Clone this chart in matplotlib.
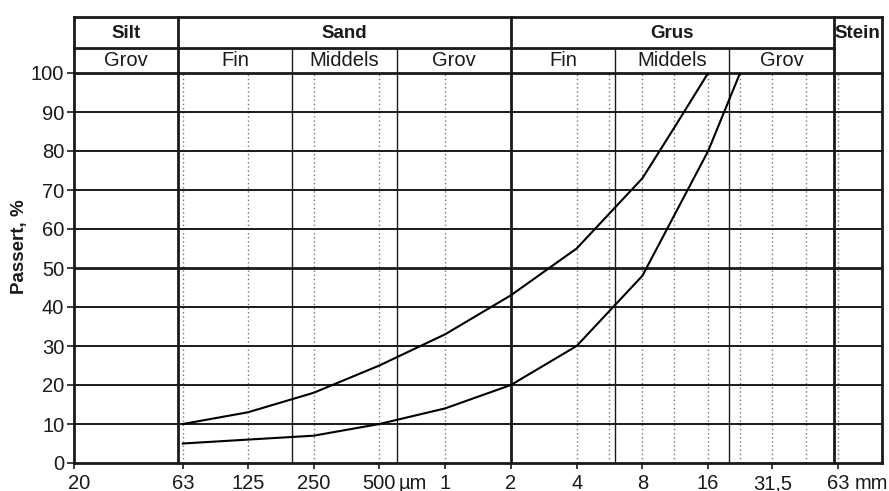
import numpy as np
import matplotlib.pyplot as plt
from matplotlib.transforms import blended_transform_factory

plt.rcParams['font.family'] = ['Liberation Sans', 'DejaVu Sans']

# grain size (mm) and percent passing for the two envelope curves
upper_d = [0.063, 0.125, 0.25, 0.5, 1, 2, 4, 8, 11.2, 16]
upper_p = [10, 13, 18, 25, 33, 43, 55, 73, 86, 100]
lower_d = [0.063, 0.125, 0.25, 0.5, 1, 2, 4, 8, 16, 22.4]
lower_p = [5, 6, 7, 10, 14, 20, 30, 48, 80, 100]

# sieve sizes (dotted) and class boundaries (solid)
sieves = [0.063, 0.125, 0.25, 0.5, 1, 4, 5.6, 8, 11.2, 16, 22.4, 31.5, 45, 63]
main_bounds = [0.06, 2, 60]
sub_bounds = [0.2, 0.6, 6, 20]

tick_pos = [0.02, 0.063, 0.125, 0.25, 0.5, 1, 2, 4, 8, 16, 31.5, 63]
tick_lab = ['20', '63', '125', '250', '500', '1', '2', '4', '8', '16', '31,5', '63']

main_classes = [('Silt', 0.02, 0.06), ('Sand', 0.06, 2), ('Grus', 2, 60), ('Stein', 60, 100)]
sub_classes = [('Grov', 0.02, 0.06), ('Fin', 0.06, 0.2), ('Middels', 0.2, 0.6),
               ('Grov', 0.6, 2), ('Fin', 2, 6), ('Middels', 6, 20), ('Grov', 20, 60)]

xmin, xmax = 0.02, 100
W, H = 889, 491
L, R, T, B, HT = 74, 882, 73, 463, 17
lc = '#1a1a1a'
fs = 14.5

fig = plt.figure(figsize=(W / 100, H / 100), dpi=100)
ax = fig.add_axes([L / W, (H - B) / H, (R - L) / W, (B - T) / H])
ax.set_xscale('log')
ax.set_xlim(xmin, xmax)
ax.set_ylim(0, 100)

# grid
for s in sieves:
    ax.axvline(s, color='#777777', lw=1.0, ls=(0, (1, 2)), zorder=1)
for b in sub_bounds:
    ax.axvline(b, color=lc, lw=1.0, zorder=2)
for b in main_bounds:
    ax.axvline(b, color=lc, lw=2.0, zorder=2)
for y in range(10, 100, 10):
    ax.axhline(y, color=lc, lw=2.0 if y == 50 else 1.4, zorder=2)

ax.plot(upper_d, upper_p, color='black', lw=1.5, zorder=3)
ax.plot(lower_d, lower_p, color='black', lw=1.5, zorder=3)

for sp in ax.spines.values():
    sp.set_linewidth(2.0)
    sp.set_color(lc)

ax.set_yticks(range(0, 101, 10))
ax.set_xticks(tick_pos)
ax.minorticks_off()
ax.tick_params(axis='y', direction='out', length=5, width=1.2, pad=2, labelsize=fs, colors=lc)
ax.tick_params(axis='x', direction='out', length=4, width=1.2, labelbottom=False, colors=lc)

# x labels drawn on a common baseline
trans = blended_transform_factory(ax.transData, ax.transAxes)
for xv, lab in zip(tick_pos, tick_lab):
    dx = 4 if lab == '20' else 0
    ax.annotate(lab, xy=(xv, 0), xycoords=trans, xytext=(dx, -19),
                textcoords='offset points', ha='center', va='baseline',
                fontsize=fs, color=lc, annotation_clip=False)
for xv, unit in [(0.5, 'µm'), (63, 'mm')]:
    ax.annotate(unit, xy=(xv, 0), xycoords=trans, xytext=(24, -19),
                textcoords='offset points', ha='center', va='baseline',
                fontsize=fs, color=lc, annotation_clip=False)

fig.text(20 / W, 1 - 247 / H, 'Passert, %', rotation=90, ha='center', va='center',
         fontsize=13.5, fontweight='bold', color=lc)

# classification header
hx = fig.add_axes([L / W, (H - T) / H, (R - L) / W, (T - HT) / H])
hx.set_xscale('log')
hx.set_xlim(xmin, xmax)
hx.set_ylim(0, T - HT)
hx.axis('off')
mid = T - 48  # row divider height above bottom of header
hx.plot([xmin, xmax], [T - HT, T - HT], color=lc, lw=2.0, clip_on=False)
hx.plot([xmin, 60], [mid, mid], color=lc, lw=2.0, clip_on=False)
hx.plot([xmin, xmin], [0, T - HT], color=lc, lw=2.0, clip_on=False)
hx.plot([xmax, xmax], [0, T - HT], color=lc, lw=2.0, clip_on=False)
for b in main_bounds:
    hx.plot([b, b], [0, T - HT], color=lc, lw=2.0, clip_on=False)
for b in sub_bounds:
    hx.plot([b, b], [0, mid], color=lc, lw=1.0, clip_on=False)

for name, a, b in main_classes:
    hx.text(np.sqrt(a * b), (mid + T - HT) / 2 - 1, name, ha='center', va='center',
            fontsize=13.5, fontweight='bold', color=lc)
for name, a, b in sub_classes:
    hx.text(np.sqrt(a * b), mid / 2, name, ha='center', va='center',
            fontsize=fs, color=lc)

fig.savefig('out.png', dpi=100)
